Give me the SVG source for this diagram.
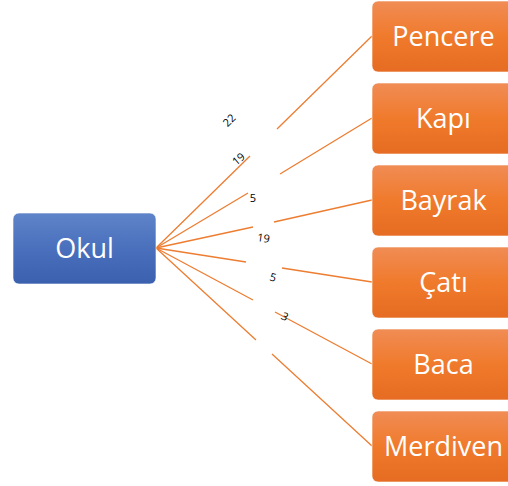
<svg xmlns="http://www.w3.org/2000/svg" width="508" height="486" viewBox="0 0 508 486">
<defs>
<linearGradient id="gb" x1="0" y1="0" x2="0" y2="1">
<stop offset="0" stop-color="#5F84C9"/>
<stop offset="0.5" stop-color="#4A70BD"/>
<stop offset="1" stop-color="#3B61AE"/>
</linearGradient>
<linearGradient id="go" x1="0" y1="0" x2="0" y2="1">
<stop offset="0" stop-color="#F08C55"/>
<stop offset="0.5" stop-color="#F07A2C"/>
<stop offset="1" stop-color="#E56C22"/>
</linearGradient>
</defs>
<style>
.box{stroke:#ffffff;stroke-width:1;stroke-opacity:0.6}
.t{font-family:"Open Sans","Noto Sans","Liberation Sans",sans-serif;font-size:27px;fill:#ffffff;text-anchor:middle}
.c{stroke:#ED7D31;stroke-width:1.3;fill:none}
.l{font-family:"Open Sans","Noto Sans","Liberation Sans",sans-serif;font-size:11px;fill:#000000;text-anchor:middle}
</style>
<rect width="508" height="486" fill="#ffffff"/>
<g id="connectors">
<path class="c" d="M156,248 L250,156 M277,129 L372,36"/>
<path class="c" d="M156,248 L248,193 M280,174 L372,118"/>
<path class="c" d="M156,248 L253,227 M274,222 L372,200"/>
<path class="c" d="M156,248 L246,262 M282,268 L372,282"/>
<path class="c" d="M156,248 L253,300 M275,312 L372,364"/>
<path class="c" d="M156,248 L256,340 M272,354 L372,446"/>
</g>
<g id="labels">
<text class="l" transform="translate(232,123) rotate(-45)">22</text>
<text class="l" transform="translate(241,162) rotate(-40)">19</text>
<text class="l" transform="translate(253,202) rotate(0)">5</text>
<text class="l" transform="translate(263,242) rotate(8)">19</text>
<text class="l" transform="translate(272,281) rotate(15)">5</text>
<text class="l" transform="translate(283,320) rotate(28)">3</text>
</g>
<g id="okul">
<rect class="box" x="13" y="213" width="143" height="71" rx="6" fill="url(#gb)"/>
<text class="t" x="84.5" y="258">Okul</text>
</g>
<g id="pencere">
<rect class="box" x="372" y="1" width="143" height="71" rx="6" fill="url(#go)"/>
<text class="t" x="443.5" y="46">Pencere</text>
</g>
<g id="kapi">
<rect class="box" x="372" y="83" width="143" height="71" rx="6" fill="url(#go)"/>
<text class="t" x="443.5" y="128">Kapı</text>
</g>
<g id="bayrak">
<rect class="box" x="372" y="165" width="143" height="71" rx="6" fill="url(#go)"/>
<text class="t" x="443.5" y="210">Bayrak</text>
</g>
<g id="cati">
<rect class="box" x="372" y="247" width="143" height="71" rx="6" fill="url(#go)"/>
<text class="t" x="443.5" y="292">Çatı</text>
</g>
<g id="baca">
<rect class="box" x="372" y="329" width="143" height="71" rx="6" fill="url(#go)"/>
<text class="t" x="443.5" y="374">Baca</text>
</g>
<g id="merdiven">
<rect class="box" x="372" y="411" width="143" height="71" rx="6" fill="url(#go)"/>
<text class="t" x="443.5" y="456">Merdiven</text>
</g>
</svg>
